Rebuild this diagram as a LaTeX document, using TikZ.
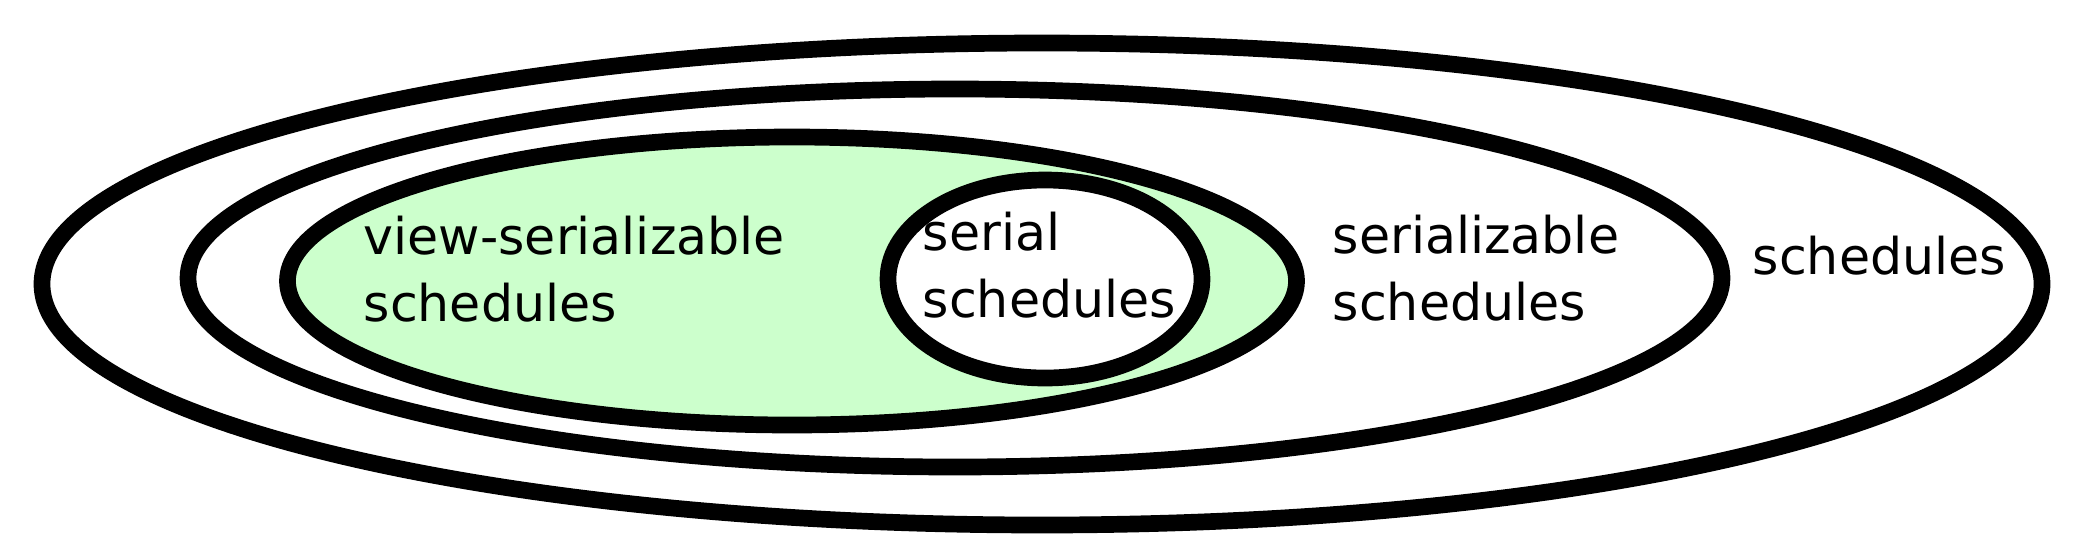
\documentclass[tikz,border=0pt]{standalone}
\usepackage{fontspec}
\setmainfont{DejaVu Sans}
\usepackage{tikz}
\usetikzlibrary{shapes.geometric,positioning,backgrounds}
\definecolor{viewgreen}{RGB}{204,255,204}

\begin{document}
\begin{tikzpicture}[
  setring/.style={ellipse, draw=black, line width=4.75pt, inner sep=0pt},
  setlabel/.style={anchor=base west, inner sep=0pt, align=left, font={\fontsize{14.4pt}{18.8pt}\selectfont}}
]
\useasboundingbox (0,0) rectangle (20.9,-5.42);
% Rings: outermost to innermost
\node[setring, minimum width=20cm, minimum height=4.82cm] (all) at (10.42,-2.84) {};
\node[setring, minimum width=15.34cm, minimum height=3.78cm] (ser) at (9.55,-2.78) {};
\node[setring, fill=viewgreen, minimum width=10.09cm, minimum height=2.88cm] (vser) at (7.92,-2.81) {};
\node[setring, fill=white, minimum width=3.14cm, minimum height=1.98cm] (serial) at (10.45,-2.79) {};
% Labels (anchored at the baseline of the last line)
\node[setlabel] (vserlbl) at (3.63,-3.21) {view-serializable\\schedules};
\node[setlabel] (seriallbl) at (9.22,-3.17) {serial\\schedules};
\node[setlabel] (serlbl) at (13.32,-3.20) {serializable\\schedules};
\node[setlabel] (alllbl) at (17.52,-2.74) {schedules};
\end{tikzpicture}
\end{document}
